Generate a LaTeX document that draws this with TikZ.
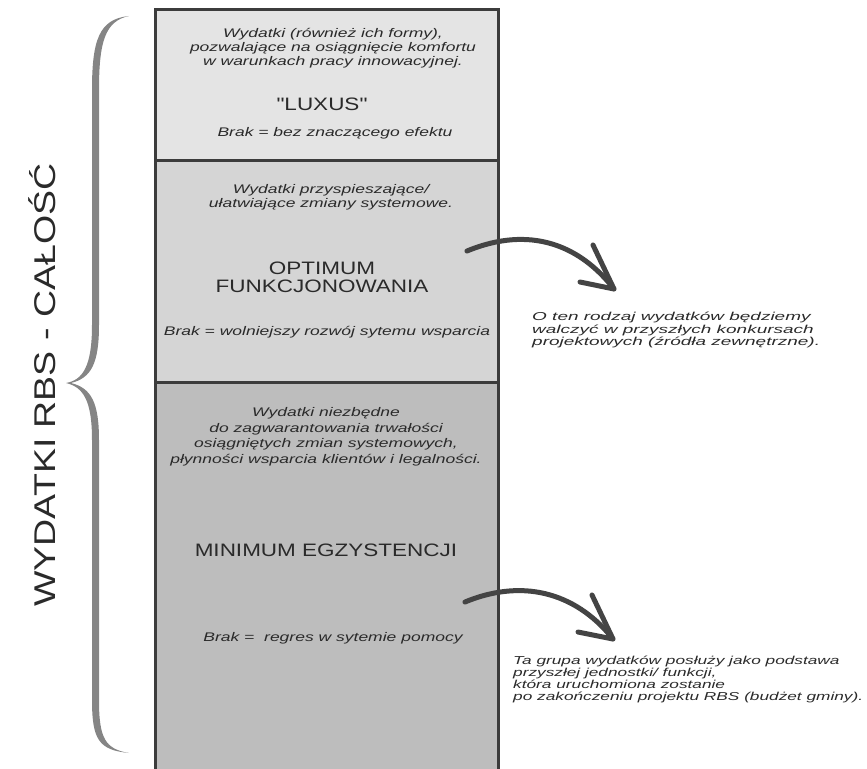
\documentclass[tikz,border=0pt]{standalone}
\usepackage{fontspec}
\setmainfont{Liberation Sans}
\newfontfamily\hand[FakeStretch=1.4]{Liberation Sans}
\newfontfamily\sidehand[FakeStretch=1.65]{Liberation Sans}
\newfontfamily\sidehandb[FakeStretch=1.5]{Liberation Sans}
\newfontfamily\caps[FakeStretch=1.25]{Liberation Sans}
\definecolor{ink}{HTML}{2A2A2A}
\definecolor{frame}{HTML}{3C3C3C}
\definecolor{lvlA}{HTML}{E4E4E4}
\definecolor{lvlB}{HTML}{D5D5D5}
\definecolor{lvlC}{HTML}{BDBDBD}
\definecolor{bracegray}{HTML}{858585}
\definecolor{arrowgray}{HTML}{444444}
\tikzset{
  layer/.style={draw=frame, line width=3pt},
  note/.style={text=ink, font=\hand\itshape\fontsize{12.5}{14}\selectfont, align=center, inner sep=0pt},
  sidenote/.style={text=ink, font=\sidehand\itshape\fontsize{11.5}{12.4}\selectfont, align=left, inner sep=0pt, anchor=north west},
  title/.style={text=ink, font=\caps\fontsize{18}{20}\selectfont, align=center, inner sep=0pt},
  pointer/.style={draw=arrowgray, line width=5pt, line cap=round, line join=round}
}
\begin{document}
\begin{tikzpicture}[x=1pt, y=-1pt]
\useasboundingbox (0,0) rectangle (867,768);
\begin{scope}
\clip (0,0) rectangle (867,768);
% stacked expenditure levels
\path[fill=lvlA] (155,10) rectangle (498,160);
\path[fill=lvlB] (155,160) rectangle (498,382);
\path[fill=lvlC] (155,382) rectangle (498,775);
\draw[layer] (155,775) -- (155,10) -- (498,10) -- (498,775);
\draw[layer] (155,160) -- (498,160);
\draw[layer] (155,382) -- (498,382);
\end{scope}

% luxury level
\node[note] (luxdesc) at (333,48) {Wydatki (również ich formy),\\pozwalające na osiągnięcie komfortu\\w warunkach pracy innowacyjnej.};
\node[title] (luxtitle) at (322,104) {"LUXUS"};
\node[note] (luxlack) at (335,133) {Brak = bez znaczącego efektu};

% optimum level
\node[note] (optdesc) at (331,197) {Wydatki przyspieszające/\\ułatwiające zmiany systemowe.};
\node[title, text width=300pt] (opttitle) at (322,277) {OPTIMUM\\[-2pt]FUNKCJONOWANIA};
\node[note] (optlack) at (327,332) {Brak = wolniejszy rozwój sytemu wsparcia};

% minimum level
\node[note, font=\hand\itshape\fontsize{12.5}{15.5}\selectfont] (mindesc) at (326,437) {Wydatki niezbędne\\do zagwarantowania trwałości\\osiągniętych zmian systemowych,\\płynności wsparcia klientów i legalności.};
\node[title] (mintitle) at (326,550) {MINIMUM EGZYSTENCJI};
\node[note] (minlack) at (333,638) {Brak =\ \ regres w sytemie pomocy};

% side comments
\node[sidenote] (optnote) at (532,312) {O ten rodzaj wydatków będziemy\\walczyć w przyszłych konkursach\\projektowych (źródła zewnętrzne).};
\node[sidenote, font=\sidehandb\itshape\fontsize{11.5}{12}\selectfont] (minnote) at (513,656) {Ta grupa wydatków posłuży jako podstawa\\przyszłej jednostki/ funkcji,\\która uruchomiona zostanie\\po zakończeniu projektu RBS (budżet gminy).};

% curved pointers
\coordinate (p1s) at (467,251);
\coordinate (p1e) at (614,289);
\coordinate (p2s) at (465,602);
\coordinate (p2e) at (613,639);
\draw[pointer] (p1s) .. controls (530,225) and (580,245) .. (p1e);
\draw[pointer] (580,282) -- (p1e) -- (593,245);
\draw[pointer] (p2s) .. controls (528,576) and (580,597) .. (p2e);
\draw[pointer] (578,632) -- (p2e) -- (592,595);

% brace spanning all levels
\fill[bracegray] (129,16) .. controls (99,19) and (92,40) .. (92,90) -- (92,325)
  .. controls (92,366) and (83,380) .. (66,383)
  .. controls (83,387) and (92,400) .. (92,440) -- (92,700)
  .. controls (92,740) and (99,750) .. (129,753)
  .. controls (105,749) and (99,738) .. (99,700) -- (99,440)
  .. controls (99,402) and (91,388) .. (71,383)
  .. controls (91,378) and (99,364) .. (99,325) -- (99,90)
  .. controls (99,42) and (105,21) .. (129,16) -- cycle;

% overall label
\node[text=ink, font=\caps\fontsize{30}{30}\selectfont, rotate=90, inner sep=0pt] (total) at (42,385) {WYDATKI RBS - CAŁOŚĆ};
\end{tikzpicture}
\end{document}
